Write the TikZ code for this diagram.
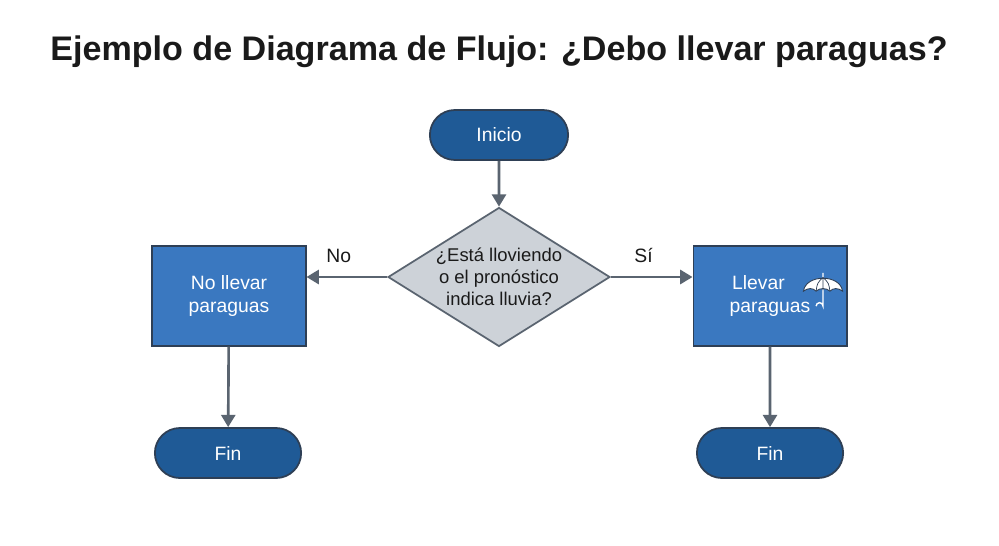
\documentclass[tikz,border=0pt]{standalone}
\usepackage{fontspec}
\setmainfont{Liberation Sans}
\usetikzlibrary{shapes.geometric,shapes.misc,arrows.meta}
\definecolor{dblue}{HTML}{1F5A96}
\definecolor{dbord}{HTML}{2E3F55}
\definecolor{mblue}{HTML}{3A78C0}
\definecolor{gfill}{HTML}{CDD2D8}
\definecolor{gline}{HTML}{5A6470}
\definecolor{ttl}{HTML}{1A1A1A}
\begin{document}
\begin{tikzpicture}[x=0.02cm,y=-0.02cm,
 term/.style={rounded rectangle, fill=dblue, draw=dbord, line width=1pt, minimum width=3.16cm, minimum height=1cm, text=white, font=\fontsize{11}{13}\selectfont},
 proc/.style={rectangle, fill=mblue, draw=dbord, line width=0.6pt, minimum width=3.08cm, minimum height=2cm, text=white, align=center, font=\fontsize{11}{13}\selectfont},
 dec/.style={diamond, fill=gfill, draw=gline, line width=1pt, shape aspect=1.6, minimum width=4.44cm, minimum height=2.78cm, inner sep=-4pt, align=center, font=\fontsize{10.5}{12.5}\selectfont, text=ttl},
 arr/.style={draw=gline, line width=1.5pt, -{Triangle[length=7pt,width=8pt]}},
 lab/.style={font=\fontsize{11}{13}\selectfont, text=ttl}]
\useasboundingbox[fill=white] (0,0) rectangle (999,545);
\node[font=\bfseries\fontsize{19.4}{23}\selectfont, text=ttl] (title) at (499,52) {Ejemplo de Diagrama de Flujo: ¿Debo llevar paraguas?};
\node[term, minimum width=3.0cm] (ini) at (499,135) {Inicio};
\node[dec] (d) at (499,277) {¿Está lloviendo\\o el pronóstico\\indica lluvia?};
\node[proc] (no) at (229,296) {No llevar\\paraguas};
\node[proc] (si) at (770,296) {\hspace*{-1.2em}Llevar\\paraguas};
\node[term] (f1) at (228,453) {Fin};
\node[term] (f2) at (770,453) {Fin};
\draw[arr] (ini) -- (d);
\draw[arr] (d.west) -- (no.east |- d.west) node[lab, pos=0.6, above=4pt] (lno) {No};
\draw[arr] (d.east) -- (si.west |- d.east) node[lab, pos=0.4, above=4pt] (lsi) {Sí};
\draw[arr] (no) -- (f1);
\draw[arr] (si) -- (f2);
% umbrella
\begin{scope}[shift={(823,290)}, scale=1.15]
\draw[white, line width=0.8pt] (0,-15) -- (0,14) arc[start angle=0,end angle=-180,radius=3];
\filldraw[fill=white, draw=dbord, line width=0.5pt] (-17,1) .. controls (-15,-14) and (15,-14) .. (17,1)
 .. controls (13,-2) and (9,-2) .. (6,1) .. controls (3,-2) and (-3,-2) .. (-6,1) .. controls (-9,-2) and (-13,-2) .. (-17,1) -- cycle;
\draw[dbord, line width=0.4pt] (0,-11) -- (0,0) (0,-11) .. controls (-5,-6) .. (-6,1) (0,-11) .. controls (5,-6) .. (6,1);
\end{scope}
\end{tikzpicture}
\end{document}
